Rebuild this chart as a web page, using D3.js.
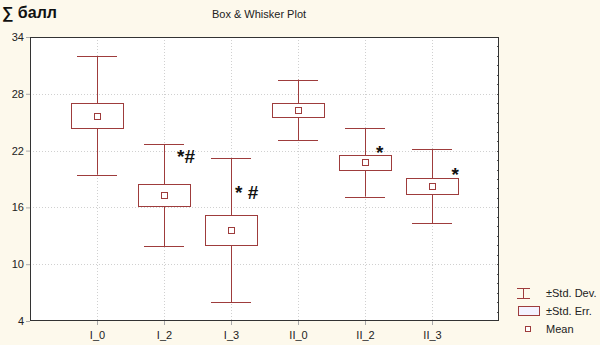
<!DOCTYPE html>
<html><head><meta charset="utf-8">
<script src="https://cdn.jsdelivr.net/npm/d3@7"></script>
<style>
html,body{margin:0;padding:0;background:#fdf9ec;}
svg{display:block;font-family:"Liberation Sans",Arial,sans-serif;}
</style></head>
<body>
<svg id="chart" width="600" height="345"></svg>
<script>
const categories = ["I_0","I_2","I_3","II_0","II_2","II_3"];
const means   = [25.7, 17.3, 13.6, 26.3, 20.75, 18.25];
const stdErr  = [1.35, 1.2, 1.6, 0.7, 0.77, 0.82];
const stdDev  = [6.25, 5.4, 7.6, 3.2, 3.6, 3.93];
const yTicks  = [4, 10, 16, 22, 28, 34];
const annCats  = ["I_2","I_3","II_2","II_3"];
const annTexts = ["*#","* #","*","*"];
const annVals  = [20.7, 16.9, 21.1, 18.8];
const annDx    = [13, 4, 11, 19.5];
const legendLabels = ["\u00B1Std. Dev.","\u00B1Std. Err.","Mean"];

const W = 600, H = 345;
const m = {top:37, right:101, bottom:24, left:30};
const iw = W - m.left - m.right, ih = H - m.top - m.bottom;
const col = "#9e3c3c";

const svg = d3.select("#chart");
const g = svg.append("g").attr("transform",`translate(${m.left},${m.top})`);

const x = d3.scalePoint().domain(categories).range([0, iw]).padding(1);
const y = d3.scaleLinear().domain([4, 34]).range([ih, 0]);

g.append("rect").attr("width",iw).attr("height",ih).attr("fill","#fff");

// grid
g.selectAll(".hg").data(yTicks.slice(1,-1)).join("line")
  .attr("x1",0).attr("x2",iw).attr("y1",d=>Math.round(y(d))+0.5).attr("y2",d=>Math.round(y(d))+0.5)
  .attr("stroke","#d0d0d0").attr("stroke-dasharray","1,2");
g.selectAll(".vg").data(categories).join("line")
  .attr("x1",d=>x(d)+0.5).attr("x2",d=>x(d)+0.5).attr("y1",0).attr("y2",ih)
  .attr("stroke","#d0d0d0").attr("stroke-dasharray","1,2");

// axes
const yAxis = d3.axisLeft(y).tickValues(yTicks).tickSize(4).tickPadding(2);
const ya = g.append("g").call(yAxis);
ya.select(".domain").remove();
ya.selectAll("line").attr("stroke","#aaa");
ya.selectAll("text").attr("font-size","11px").attr("fill","#222");

const xAxis = d3.axisBottom(x).tickSize(4).tickPadding(6);
const xa = g.append("g").attr("transform",`translate(0,${ih})`).call(xAxis);
xa.select(".domain").remove();
xa.selectAll("line").attr("stroke","#aaa");
xa.selectAll("text").attr("font-size","11px").attr("fill","#222");

// right minor ticks
g.selectAll(".rt").data(d3.range(5, 34)).join("line")
  .attr("x1",iw-2).attr("x2",iw).attr("y1",d=>Math.round(y(d))+0.5).attr("y2",d=>Math.round(y(d))+0.5)
  .attr("stroke","#555");

g.append("rect").attr("x",0.5).attr("y",0.5).attr("width",iw-1).attr("height",ih-1)
  .attr("fill","none").attr("stroke","#333");

// boxes
const data = categories.map((c,i)=>({c, m:means[i], se:stdErr[i], sd:stdDev[i]}));
const boxHalf = 26, capHalf = 20;
const bg = g.selectAll(".box").data(data).join("g");
bg.append("line").attr("x1",d=>x(d.c)+0.5).attr("x2",d=>x(d.c)+0.5)
  .attr("y1",d=>y(d.m+d.sd)).attr("y2",d=>y(d.m-d.sd)).attr("stroke",col);
bg.append("line").attr("x1",d=>x(d.c)-capHalf).attr("x2",d=>x(d.c)+capHalf)
  .attr("y1",d=>Math.round(y(d.m+d.sd))+0.5).attr("y2",d=>Math.round(y(d.m+d.sd))+0.5).attr("stroke",col);
bg.append("line").attr("x1",d=>x(d.c)-capHalf).attr("x2",d=>x(d.c)+capHalf)
  .attr("y1",d=>Math.round(y(d.m-d.sd))+0.5).attr("y2",d=>Math.round(y(d.m-d.sd))+0.5).attr("stroke",col);
bg.append("rect").attr("x",d=>x(d.c)-boxHalf+0.5).attr("width",boxHalf*2)
  .attr("y",d=>Math.round(y(d.m+d.se))+0.5).attr("height",d=>Math.round(y(d.m-d.se))-Math.round(y(d.m+d.se)))
  .attr("fill","#fff").attr("stroke",col);
bg.append("rect").attr("x",d=>x(d.c)-2.5).attr("width",6)
  .attr("y",d=>Math.round(y(d.m))-2.5).attr("height",6)
  .attr("fill","#fff").attr("stroke",col);

// annotations
g.selectAll(".ann").data(annCats).join("text")
  .attr("x",(d,i)=>x(d)+annDx[i]).attr("y",(d,i)=>y(annVals[i]))
  .attr("font-size","19px").attr("font-weight","bold").attr("fill","#111").text((d,i)=>annTexts[i]);

// titles
svg.append("text").attr("x",259).attr("y",18).attr("text-anchor","middle")
  .attr("font-size","11px").attr("fill","#222").text("Box & Whisker Plot");
svg.append("text").attr("x",2).attr("y",18).attr("font-size","16px").attr("font-weight","bold")
  .attr("fill","#111").text("\u2211 балл");

// legend
const lg = svg.append("g");
const ly = [293, 311, 329];
lg.append("line").attr("x1",517).attr("x2",530).attr("y1",288.5).attr("y2",288.5).attr("stroke",col);
lg.append("line").attr("x1",517).attr("x2",530).attr("y1",298.5).attr("y2",298.5).attr("stroke",col);
lg.append("line").attr("x1",523.5).attr("x2",523.5).attr("y1",288.5).attr("y2",298.5).attr("stroke",col);
lg.append("rect").attr("x",518.5).attr("y",306.5).attr("width",21).attr("height",9)
  .attr("fill","#f4f2ff").attr("stroke",col);
lg.append("rect").attr("x",525.5).attr("y",326.5).attr("width",5).attr("height",5)
  .attr("fill","#fff").attr("stroke",col);
lg.selectAll(".lt").data(legendLabels).join("text")
  .attr("x",546).attr("y",(d,i)=>ly[i]+4).attr("font-size","11px").attr("fill","#222").text(d=>d);
</script>
</body></html>
